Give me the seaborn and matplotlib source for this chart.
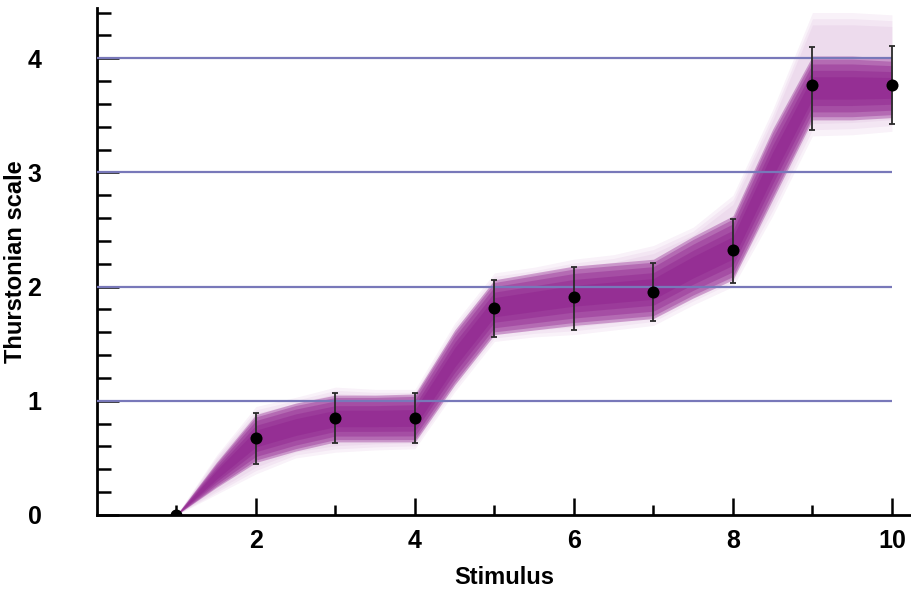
import numpy as np
import pandas as pd
import matplotlib
matplotlib.use("Agg")
import matplotlib.pyplot as plt
import seaborn as sns

# ---- data ----
stimulus = [1, 2, 3, 4, 5, 6, 7, 8, 9, 10]
scale_mean = [0.0, 0.67, 0.85, 0.85, 1.81, 1.91, 1.95, 2.32, 3.77, 3.77]
err_low = [0.0, 0.45, 0.63, 0.63, 1.56, 1.62, 1.70, 2.03, 3.37, 3.42]
err_high = [0.0, 0.89, 1.07, 1.07, 2.06, 2.17, 2.21, 2.59, 4.10, 4.11]

band_x = [1, 1.5, 2, 2.5, 3, 3.5, 4, 4.5, 5, 5.5, 6, 6.5, 7, 7.5, 8, 8.5, 9, 9.5, 10]
outer_lo = [0.0, 0.18, 0.36, 0.50, 0.55, 0.57, 0.58, 1.08, 1.52, 1.56, 1.58, 1.62, 1.66, 1.84, 2.00, 2.62, 3.32, 3.33, 3.36]
outer_hi = [0.0, 0.52, 0.95, 1.03, 1.12, 1.10, 1.10, 1.68, 2.12, 2.17, 2.24, 2.28, 2.36, 2.52, 2.80, 3.55, 4.40, 4.40, 4.38]
core_lo = [0.0, 0.24, 0.46, 0.56, 0.64, 0.64, 0.64, 1.14, 1.58, 1.62, 1.66, 1.69, 1.72, 1.90, 2.06, 2.76, 3.46, 3.46, 3.48]
core_hi = [0.0, 0.46, 0.88, 0.98, 1.05, 1.05, 1.06, 1.62, 2.06, 2.12, 2.18, 2.21, 2.24, 2.44, 2.62, 3.38, 4.02, 4.02, 4.00]

grid_levels = [1, 2, 3, 4]
x_major = [2, 4, 6, 8, 10]
x_minor = [1, 3, 5, 7, 9]
y_major = [0, 1, 2, 3, 4]

df = pd.DataFrame({"Stimulus": stimulus, "Thurstonian scale": scale_mean})

# ---- style ----
sns.set_theme(style="white")
plt.rcParams["font.family"] = ["Liberation Sans", "DejaVu Sans"]
plt.rcParams["font.weight"] = "bold"
plt.rcParams["text.color"] = "black"
plt.rcParams["axes.labelcolor"] = "black"
plt.rcParams["xtick.color"] = "black"
plt.rcParams["ytick.color"] = "black"

fig = plt.figure(figsize=(9.11, 5.96), dpi=100)
ax = fig.add_axes([97 / 911, 1 - 515 / 596, 1 - 97 / 911, (515 - 8) / 596])

purple = "#8b1a89"
bx = np.array(band_x)
olo, ohi = np.array(outer_lo), np.array(outer_hi)
clo, chi = np.array(core_lo), np.array(core_hi)
cc = (clo + chi) / 2
ch = (chi - clo) / 2
oc = (olo + ohi) / 2
oh = (ohi - olo) / 2

# faint outer envelope
for f in [1.0, 0.9, 0.8]:
    ax.fill_between(bx, oc - f * oh, oc + f * oh, color="#b35ab3", alpha=0.08, lw=0, zorder=1)
# dense core
for f in [1.0, 0.9, 0.75, 0.55, 0.35]:
    ax.fill_between(bx, cc - f * ch, cc + f * ch, color=purple, alpha=0.35, lw=0, zorder=2)

# horizontal reference lines
ax.hlines(grid_levels, 0, 10, colors="#7878b9", linewidth=1.6, zorder=3)

# error bars
yerr = [np.array(scale_mean) - np.array(err_low), np.array(err_high) - np.array(scale_mean)]
ax.errorbar(stimulus, scale_mean, yerr=yerr, fmt="none", ecolor="#2a2a2a",
            elinewidth=1.3, capsize=2.5, capthick=1.3, zorder=4)

# points
sns.scatterplot(data=df, x="Stimulus", y="Thurstonian scale", ax=ax, color="black",
                s=75, edgecolor="black", linewidth=0, zorder=5, legend=False)

ax.set_xlim(0, 10.24)
ax.set_ylim(0, 4.44)

ax.set_xticks(x_major)
ax.set_xticks(x_minor, minor=True)
ax.set_yticks(y_major)
ax.set_yticks(np.arange(0, 4.41, 0.2), minor=True)
ax.set_xticklabels([str(v) for v in x_major], fontsize=18, fontweight="bold")
ax.set_yticklabels([str(v) for v in y_major], fontsize=18, fontweight="bold")

ax.tick_params(which="both", left=True, bottom=True, top=False, right=False)
ax.tick_params(axis="x", which="major", direction="in", length=12, width=1.8, pad=10, colors="black")
ax.tick_params(axis="x", which="minor", direction="in", length=7, width=1.8, colors="black")
ax.tick_params(axis="y", which="major", direction="in", length=16, width=1.8, pad=40, colors="black")
ax.tick_params(axis="y", which="minor", direction="in", length=10, width=1.8, colors="black")

for side in ["top", "right"]:
    ax.spines[side].set_visible(False)
for side in ["left", "bottom"]:
    ax.spines[side].set_color("black")
    ax.spines[side].set_linewidth(2)

ax.set_xlabel("Stimulus", fontsize=17, fontweight="bold", color="black")
ax.set_ylabel("Thurstonian scale", fontsize=17, fontweight="bold", color="black")
ax.xaxis.set_label_coords(0.5, -(578 - 515 + 8) / 507, transform=None) if False else None
ax.xaxis.label.set_verticalalignment("center")
ax.xaxis.set_label_coords(0.5, -(578 - 515) / 507)
ax.yaxis.label.set_verticalalignment("center")
ax.yaxis.set_label_coords((16 - 97) / 814, 0.5)
ax.grid(False)
ax.set_facecolor("white")

fig.savefig("out.png", dpi=100)
